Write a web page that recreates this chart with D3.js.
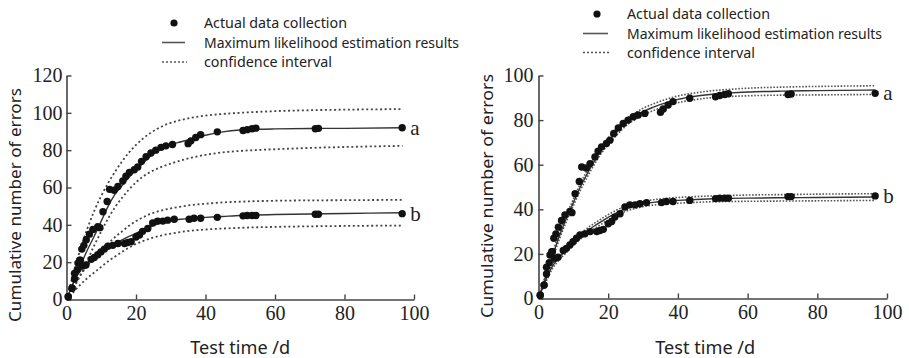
<!DOCTYPE html>
<html>
<head>
<meta charset="utf-8">
<script src="https://cdn.jsdelivr.net/npm/d3@7"></script>
<style>
  html, body { margin: 0; padding: 0; background: #fff; }
  svg { display: block; }
  .tick text, .serif { font-family: "Liberation Serif", "Times New Roman", serif !important; }
</style>
</head>
<body>
<svg id="chart" width="909" height="358"></svg>
<script>
// ---------------- DATA ----------------
// Observed cumulative errors (same test data in both panels)
const timeA   = [0.5, 1.6, 2.3, 3.1, 3.8, 4.4, 5.0, 5.7, 6.6, 7.6, 9.0, 9.6, 10.5, 11.7, 12.4, 13.7, 14.8, 16.2, 17.1, 18.1, 19.5, 20.5, 21.6, 22.9, 24.3, 25.7, 27.2, 28.6, 30.5, 35.0, 35.8, 37.2, 38.6, 43.4, 50.8, 52.0, 53.4, 54.5, 71.6, 72.5, 96.6];
const errorsA = [1.5, 6, 11, 16, 21, 27, 29, 32, 35, 37.5, 39, 38.5, 47, 52.5, 59, 58.5, 60.5, 63.5, 66, 68, 69.5, 71, 74, 76.5, 78.5, 80, 81.5, 82.3, 83, 83.5, 85, 86.8, 88.3, 89.8, 90.5, 91, 91.5, 91.8, 91.5, 91.7, 92];
const timeB   = [0.5, 1.6, 2.3, 3.3, 4.0, 4.7, 5.6, 7.1, 8.0, 9.0, 9.9, 10.9, 11.9, 13.3, 14.8, 16.7, 17.6, 18.6, 20.0, 21.0, 21.9, 23.4, 24.8, 26.2, 27.7, 29.1, 31.0, 35.3, 36.7, 38.6, 43.4, 50.8, 52.0, 53.4, 54.5, 71.6, 72.5, 96.6];
const errorsB = [1.5, 6, 14, 19.5, 21, 18, 18.5, 21.5, 22.5, 24, 25.5, 27, 28.5, 29, 30, 30, 30.5, 31, 33.5, 34.5, 36.5, 38, 41, 42, 42, 42.5, 43, 43, 43.5, 43.5, 44, 44.8, 45, 45, 45, 45.7, 45.7, 46];

// Time grid for the estimated curves
const curveTime = [0, 2, 4, 6, 8, 10, 12, 14, 16, 18, 20, 22, 24, 26, 28, 30, 33, 36, 40, 45, 50, 55, 60, 70, 80, 96.7];

// Left panel: MLE curves and confidence bounds
const leftFitA   = [0, 9, 18, 26.5, 34, 42, 50, 56.5, 61, 65.5, 69.5, 73, 76.5, 79.5, 81.5, 83, 84.5, 86, 88, 89.8, 90.8, 91.2, 91.4, 91.6, 91.7, 92];
const leftUpperA = [0, 14, 27, 38, 47.5, 55.5, 62.5, 68.5, 74, 78.8, 82.8, 86.2, 89, 91.3, 93.2, 94.6, 96.2, 97.4, 98.5, 99.4, 100, 100.5, 100.9, 101.4, 101.7, 102];
const leftLowerA = [0, 6, 13, 21, 29, 36.5, 43.5, 49.5, 54.5, 59, 62.8, 65.8, 68.2, 70, 71.5, 72.8, 74.5, 76, 77.5, 78.8, 79.6, 80.1, 80.5, 81.2, 81.7, 82.3];
const leftFitB   = [0, 9, 15.5, 19.5, 22.5, 25.3, 27.8, 30, 32, 33.8, 35.5, 37.2, 38.8, 40.2, 41.3, 42.2, 43, 43.5, 44, 44.5, 45, 45.3, 45.5, 45.8, 46.1, 46.5];
const leftUpperB = [0, 7, 13, 18, 22.5, 26.5, 30, 33.5, 36.5, 39.5, 42, 44, 45.7, 47, 48, 48.8, 49.8, 50.6, 51.3, 52, 52.4, 52.7, 52.9, 53.1, 53.2, 53.4];
const leftLowerB = [0, 4, 8, 11.5, 14.5, 17.5, 20.5, 23, 25.5, 27.8, 29.8, 31.3, 32.6, 33.7, 34.6, 35.3, 36.2, 36.9, 37.5, 38, 38.4, 38.7, 38.9, 39.2, 39.4, 39.6];

// Right panel: MLE curves and confidence bounds
const rightFitA   = [0, 9.5, 19, 28, 36, 43, 50, 56, 61.5, 66.5, 70.5, 74, 77.3, 80, 82, 83.8, 85.8, 87.5, 89.3, 90.7, 91.6, 92.2, 92.6, 93, 93.2, 93.5];
const rightUpperA = [0, 10.5, 20.3, 29.4, 37.5, 44.5, 51.5, 57.5, 63, 68, 72, 75.5, 78.8, 81.5, 83.5, 85.3, 87.3, 89, 90.8, 92.2, 93.2, 93.8, 94.3, 94.8, 95.1, 95.4];
const rightLowerA = [0, 8.5, 17.7, 26.6, 34.5, 41.5, 48.5, 54.5, 60, 65, 69, 72.5, 75.8, 78.5, 80.5, 82.3, 84.3, 86, 87.8, 89.2, 90.1, 90.6, 90.9, 91.2, 91.3, 91.5];
const rightFitB   = [0, 8, 14.5, 18.5, 21.8, 25, 27.8, 30.3, 32.5, 34.5, 36.4, 38.1, 39.6, 40.8, 41.7, 42.4, 43.1, 43.6, 44, 44.4, 44.7, 44.9, 45, 45.2, 45.3, 45.5];
const rightUpperB = [0, 9, 15.6, 19.6, 23, 26.2, 29, 31.5, 33.7, 35.7, 37.6, 39.3, 40.8, 42, 42.9, 43.6, 44.3, 44.8, 45.3, 45.7, 46, 46.2, 46.4, 46.6, 46.8, 47];
const rightLowerB = [0, 7, 13.4, 17.4, 20.6, 23.8, 26.6, 29.1, 31.3, 33.3, 35.2, 36.9, 38.4, 39.6, 40.5, 41.2, 41.9, 42.3, 42.7, 43.1, 43.4, 43.5, 43.6, 43.7, 43.8, 44];

// Ticks and text
const xTicks = [0, 20, 40, 60, 80, 100];
const leftYTicks = [0, 20, 40, 60, 80, 100, 120];
const rightYTicks = [0, 20, 40, 60, 80, 100];
const legendLabels = ["Actual data collection", "Maximum likelihood estimation results", "confidence interval"];
const seriesLabels = ["a", "b"];
const xTitle = "Test time /d";
const yTitle = "Cumulative number of errors";

// ---------------- DRAW ----------------
const svg = d3.select("#chart");
const SERIF = "Liberation Serif";
const SANS = "Noto Sans";

function fitText(sel, width) {
  sel.attr("textLength", width).attr("lengthAdjust", "spacingAndGlyphs");
}

function drawPanel(cfg) {
  const g = svg.append("g");
  const x = d3.scaleLinear().domain([0, 100]).range([cfg.x0, cfg.x1]);
  const y = d3.scaleLinear().domain([0, cfg.yMax]).range([cfg.y0, cfg.y1]);

  // axes
  const xa = g.append("g").attr("transform", `translate(0,${cfg.y0})`)
    .call(d3.axisBottom(x).tickValues(xTicks).tickSizeInner(-5).tickSizeOuter(0).tickPadding(6));
  const ya = g.append("g").attr("transform", `translate(${cfg.x0},0)`)
    .call(d3.axisLeft(y).tickValues(cfg.yTicks).tickSizeInner(-5).tickSizeOuter(0).tickPadding(cfg.yPad));
  [xa, ya].forEach(a => {
    a.attr("font-family", SERIF).attr("font-size", 20);
    a.select(".domain").attr("stroke", "#444").attr("stroke-width", 1.6);
    a.selectAll(".tick line").attr("stroke", "#444").attr("stroke-width", 1.4);
    a.selectAll(".tick text").attr("fill", "#222").attr("font-family", SERIF).attr("font-size", 20);
  });

  const line = d3.line().x(d => x(d[0])).y(d => y(d[1])).curve(d3.curveMonotoneX);
  const pairs = arr => curveTime.map((t, i) => [t, arr[i]]);

  cfg.curves.forEach(c => {
    g.append("path").attr("d", line(pairs(c.upper))).attr("fill", "none")
      .attr("stroke", cfg.dotColor).attr("stroke-width", cfg.dotWidth).attr("stroke-dasharray", cfg.dash);
    g.append("path").attr("d", line(pairs(c.lower))).attr("fill", "none")
      .attr("stroke", cfg.dotColor).attr("stroke-width", cfg.dotWidth).attr("stroke-dasharray", cfg.dash);
    g.append("path").attr("d", line(pairs(c.fit))).attr("fill", "none")
      .attr("stroke", "#333").attr("stroke-width", 1.4);
  });

  const sets = [[timeA, errorsA], [timeB, errorsB]];
  sets.forEach(([ts, vs], k) => {
    g.append("g").selectAll("circle").data(ts).join("circle")
      .attr("cx", d => x(d)).attr("cy", (d, i) => y(vs[i])).attr("r", 3.7).attr("fill", "#111");
    const last = ts.length - 1;
    g.append("text").attr("class", "serif").attr("x", x(ts[last]) + 8).attr("y", y(vs[last]))
      .attr("dy", "0.33em").attr("fill", "#222")
      .attr("font-family", SERIF).attr("font-size", 21).text(seriesLabels[k]);
  });

  // titles
  const xt = g.append("text").attr("x", (cfg.x0 + cfg.x1) / 2 + cfg.xTitleShift).attr("y", 354)
    .attr("text-anchor", "middle").attr("fill", "#222")
    .attr("font-family", SANS).attr("font-size", 18).text(xTitle);
  fitText(xt, 100);
  const yt = g.append("text").attr("transform", `translate(${cfg.yTitleX},${cfg.yTitleY}) rotate(-90)`)
    .attr("text-anchor", "middle").attr("fill", "#222")
    .attr("font-family", SANS).attr("font-size", 17).text(yTitle);
  fitText(yt, cfg.yTitleLen);

  // legend
  const L = cfg.legend;
  const lg = g.append("g");
  lg.append("circle").attr("cx", L.dotX).attr("cy", L.rows[0]).attr("r", 3.6).attr("fill", "#111");
  lg.append("line").attr("x1", L.lx0).attr("x2", L.lx1).attr("y1", L.rows[1]).attr("y2", L.rows[1])
    .attr("stroke", "#555").attr("stroke-width", 1.6);
  lg.append("line").attr("x1", L.lx0).attr("x2", L.lx1 + 2).attr("y1", L.rows[2]).attr("y2", L.rows[2])
    .attr("stroke", "#555").attr("stroke-width", 1.5).attr("stroke-dasharray", "2,2");
  const widths = [143, 255, 128];
  legendLabels.forEach((s, i) => {
    const t = lg.append("text").attr("x", L.tx).attr("y", L.rows[i]).attr("dy", "0.36em")
      .attr("fill", "#222").attr("font-family", SANS).attr("font-size", 15).text(s);
    fitText(t, widths[i]);
  });
}

drawPanel({
  x0: 66.5, x1: 414, y0: 299.5, y1: 75.5, yMax: 120, yTicks: leftYTicks, yPad: 4,
  dotColor: "#444", dotWidth: 1.8, dash: "2,2.6", xTitleShift: 0,
  yTitleX: 21, yTitleY: 205, yTitleLen: 234,
  curves: [
    { fit: leftFitA, upper: leftUpperA, lower: leftLowerA },
    { fit: leftFitB, upper: leftUpperB, lower: leftLowerB }
  ],
  legend: { dotX: 174, lx0: 162, lx1: 185, tx: 204, rows: [23, 42.5, 62] }
});

drawPanel({
  x0: 538.5, x1: 887, y0: 298.5, y1: 75.5, yMax: 100, yTicks: rightYTicks, yPad: 5,
  dotColor: "#555", dotWidth: 1.6, dash: "1.6,1.6", xTitleShift: -7.5,
  yTitleX: 493, yTitleY: 196, yTitleLen: 244,
  curves: [
    { fit: rightFitA, upper: rightUpperA, lower: rightLowerA },
    { fit: rightFitB, upper: rightUpperB, lower: rightLowerB }
  ],
  legend: { dotX: 597, lx0: 583, lx1: 608, tx: 627, rows: [14, 33.5, 52.5] }
});
</script>
</body>
</html>
